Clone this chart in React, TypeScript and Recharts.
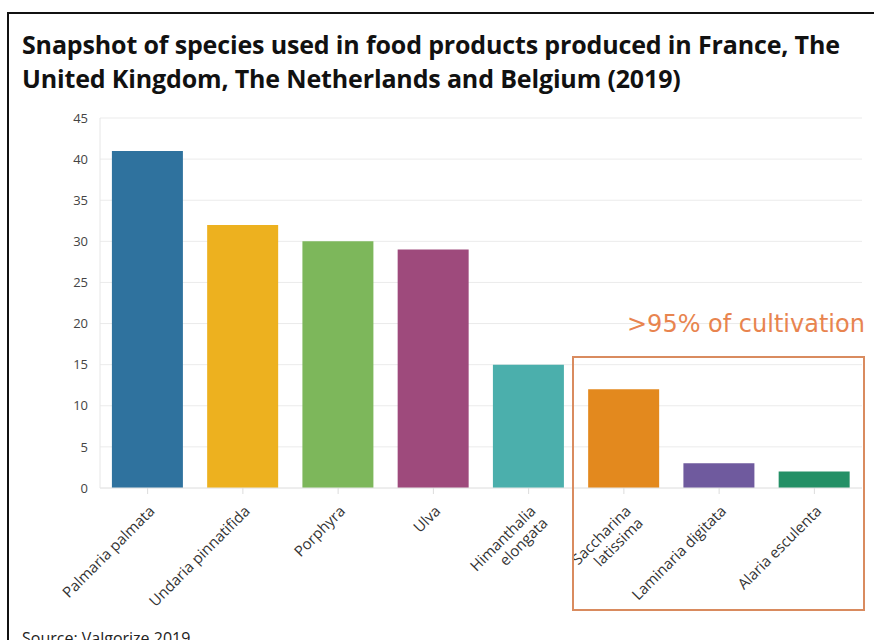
import React from 'react';
import { BarChart, Bar, XAxis, YAxis, CartesianGrid, Cell } from 'recharts';

const species = [
    'Palmaria palmata',
    'Undaria pinnatifida',
    'Porphyra',
    'Ulva',
    'Himanthalia elongata',
    'Saccharina latissima',
    'Laminaria digitata',
    'Alaria esculenta',
];
const counts = [41, 32, 30, 29, 15, 12, 3, 2];
const barColors = ['#2F729E', '#EDB11F', '#7DB75B', '#9E4A7C', '#4BAFAC', '#E3891E', '#6F5A9E', '#249066'];
// wrapped tick labels, same order as species
const tickLabels = [
    ['Palmaria palmata'],
    ['Undaria pinnatifida'],
    ['Porphyra'],
    ['Ulva'],
    ['Himanthalia', 'elongata'],
    ['Saccharina', 'latissima'],
    ['Laminaria digitata'],
    ['Alaria esculenta'],
];
const yTicks = [0, 5, 10, 15, 20, 25, 30, 35, 40, 45];

const data = species.map((name, i) => ({ name, value: counts[i] }));

const FONT = '"Open Sans", "Noto Sans", sans-serif';

const SpeciesTick = (props: any) => {
    const { x, y, payload } = props;
    const idx = species.indexOf(payload.value);
    const lines = tickLabels[idx] || [payload.value];
    const ax = x + 8;
    const ay = y + 16;
    return (
        <text
            x={ax}
            y={ay}
            transform={`rotate(-45, ${ax}, ${ay})`}
            textAnchor="end"
            fontSize={15}
            fontFamily={FONT}
            fill="#333"
        >
            {lines.map((l: string, i: number) => (
                <tspan key={i} x={ax} dy={i === 0 ? 0 : 17}>{l}</tspan>
            ))}
        </text>
    );
};

const App = () => {
    return (
        <div style={{ position: 'absolute', left: 0, top: 0, width: 874, height: 640, background: '#fff', overflow: 'hidden' }}>
            {/* frame */}
            <div style={{ position: 'absolute', left: 7, top: 12, width: 900, height: 700, borderTop: '2px solid #111', borderLeft: '2px solid #111' }} />

            <div style={{ position: 'absolute', left: 22, top: 27, fontFamily: FONT, fontWeight: 700, fontSize: 25, lineHeight: '34px', color: '#111', letterSpacing: -0.15 }}>
                Snapshot of species used in food products produced in France, The<br />
                United Kingdom, The Netherlands and Belgium (2019)
            </div>

            <div style={{ position: 'absolute', left: 0, top: 0 }}>
                <BarChart width={874} height={640} data={data} margin={{ top: 118, right: 12, bottom: 122, left: 40 }} barCategoryGap="12.5%">
                    <CartesianGrid vertical={false} stroke="#ebebeb" />
                    <XAxis
                        dataKey="name"
                        interval={0}
                        axisLine={{ stroke: '#e6e6e6' }}
                        tickLine={{ stroke: '#dcdcdc' }}
                        tickSize={6}
                        tick={<SpeciesTick />}
                    />
                    <YAxis
                        width={60}
                        domain={[0, 45]}
                        ticks={yTicks}
                        axisLine={{ stroke: '#e6e6e6' }}
                        tickLine={false}
                        tickMargin={6}
                        tick={{ fontSize: 13, fill: '#444', fontFamily: FONT }}
                    />
                    <Bar dataKey="value" isAnimationActive={false}>
                        {data.map((d, i) => (
                            <Cell key={d.name} fill={barColors[i]} />
                        ))}
                    </Bar>
                </BarChart>
            </div>

            {/* cultivation highlight */}
            <div style={{ position: 'absolute', left: 572, top: 356, width: 289, height: 251, border: '2px solid #D98B5F' }} />
            <div style={{ position: 'absolute', left: 627, top: 310, fontFamily: '"DejaVu Sans", sans-serif', fontSize: 24, color: '#E8844F', whiteSpace: 'nowrap' }}>
                &gt;95% of cultivation
            </div>

            <div style={{ position: 'absolute', left: 22, top: 627, fontFamily: FONT, fontSize: 16, color: '#222' }}>
                Source: Valgorize 2019
            </div>
        </div>
    );
};

export default App;
